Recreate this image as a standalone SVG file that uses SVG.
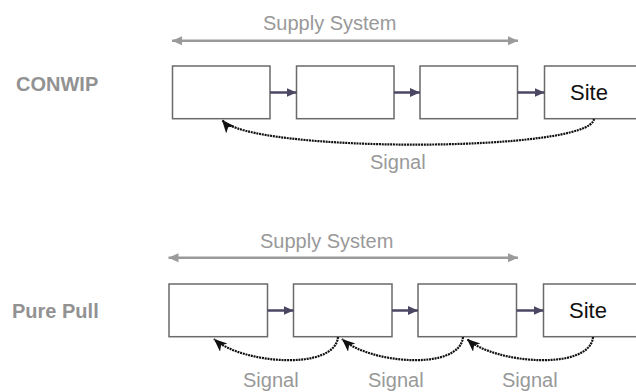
<svg xmlns="http://www.w3.org/2000/svg" width="636" height="392" viewBox="0 0 636 392">
<defs>
<style>
.lbl{font-family:"Liberation Sans",Arial,sans-serif;font-size:20px;fill:#999}
.row{font-family:"Liberation Sans",Arial,sans-serif;font-size:20px;font-weight:bold;fill:#929292}
.site{font-family:"Liberation Sans",Arial,sans-serif;font-size:22px;fill:#111}
.box{fill:#fff;stroke:#6a6a6a;stroke-width:1.5}
.flow{stroke:#4b4763;stroke-width:2.5;fill:none;marker-end:url(#fh)}
.span{stroke:#9a9a9a;stroke-width:2.5;fill:none;marker-start:url(#gs);marker-end:url(#ge)}
.sig{stroke:#111;stroke-width:2.2;stroke-dasharray:2 0.8;fill:none;marker-end:url(#sh)}
</style>
<marker id="fh" markerUnits="userSpaceOnUse" markerWidth="12" markerHeight="10" refX="10" refY="4.5" orient="auto"><path d="M0,0 L10,4.5 L0,9 z" fill="#4b4763"/></marker>
<marker id="ge" markerUnits="userSpaceOnUse" markerWidth="12" markerHeight="10" refX="10" refY="4.5" orient="auto"><path d="M0,0 L10,4.5 L0,9 z" fill="#9a9a9a"/></marker>
<marker id="gs" markerUnits="userSpaceOnUse" markerWidth="12" markerHeight="10" refX="0" refY="4.5" orient="auto"><path d="M10,0 L0,4.5 L10,9 z" fill="#9a9a9a"/></marker>
<marker id="sh" markerUnits="userSpaceOnUse" markerWidth="15" markerHeight="12" refX="13" refY="5.5" orient="auto"><path d="M0,0 L13,5.5 L0,11 L3.5,5.5 z" fill="#111"/></marker>
</defs>

<g id="conwip-row">
<text class="row" x="16" y="91">CONWIP</text>
<text class="lbl" x="263" y="30">Supply System</text>
</g>
<g id="c-box1"><rect class="box" x="172.5" y="66" width="97.5" height="52.7"/></g>
<g id="c-box2"><rect class="box" x="296.5" y="66" width="97.5" height="52.7"/></g>
<g id="c-box3"><rect class="box" x="420" y="66" width="97.5" height="52.7"/></g>
<g id="c-site"><rect class="box" x="544.5" y="66" width="100" height="52.7"/><text class="site" x="570" y="100">Site</text></g>
<g id="c-signal-label"><text class="lbl" x="370" y="169">Signal</text></g>

<g id="pull-row">
<text class="row" x="12" y="318">Pure Pull</text>
<text class="lbl" x="260" y="248">Supply System</text>
</g>
<g id="p-box1"><rect class="box" x="169" y="284" width="98.5" height="52.7"/></g>
<g id="p-box2"><rect class="box" x="293.5" y="284" width="98.5" height="52.7"/></g>
<g id="p-box3"><rect class="box" x="418" y="284" width="98.5" height="52.7"/></g>
<g id="p-site"><rect class="box" x="543.5" y="284" width="100" height="52.7"/><text class="site" x="569" y="318">Site</text></g>
<g id="p-signal-labels">
<text class="lbl" x="243" y="387">Signal</text>
<text class="lbl" x="368" y="387">Signal</text>
<text class="lbl" x="502" y="387">Signal</text>
</g>

<g id="connectors">
<path class="span" d="M172,40.7 H518"/>
<path class="flow" d="M270,92.5 H296.5"/>
<path class="flow" d="M394,92.5 H420"/>
<path class="flow" d="M517.5,92.5 H544.5"/>
<path class="sig" d="M594,119 C590,153 250,153 222,120"/>

<path class="span" d="M168.5,257.7 H518"/>
<path class="flow" d="M267.5,310.5 H293.5"/>
<path class="flow" d="M392,310.5 H418"/>
<path class="flow" d="M516.5,310.5 H543.5"/>
<path class="sig" d="M338,337 C335,371 242,364 214,339"/>
<path class="sig" d="M463,337 C460,371 370,364 342,339"/>
<path class="sig" d="M593,337 C590,371 495,364 467,339"/>
</g>
</svg>
